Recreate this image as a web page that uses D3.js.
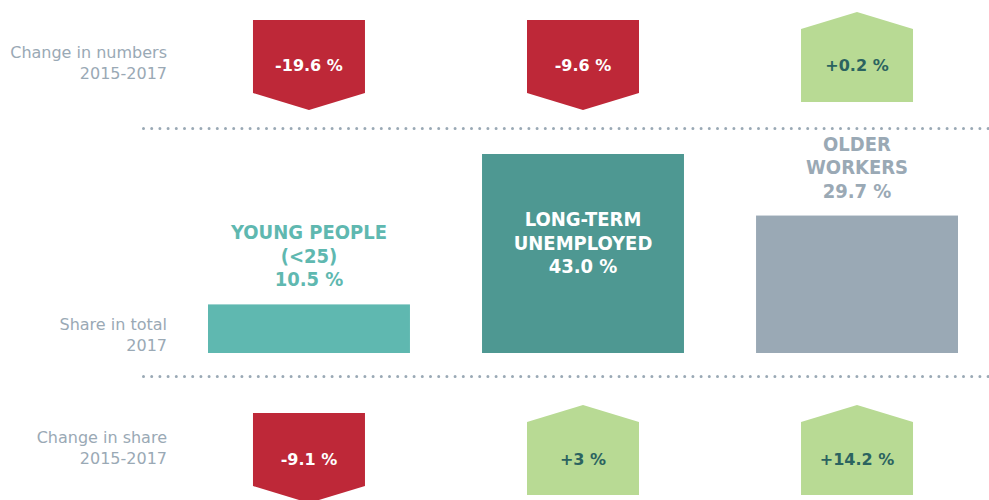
<!DOCTYPE html>
<html>
<head>
<meta charset="utf-8">
<script src="https://cdn.jsdelivr.net/npm/d3@7"></script>
<style>
  html, body { margin: 0; padding: 0; background: #ffffff; }
  svg text { font-family: "DejaVu Sans Condensed", "DejaVu Sans", sans-serif; }
</style>
</head>
<body>
<div id="chart"></div>
<script>
// Groups and their values
const groups = ["YOUNG PEOPLE (<25)", "LONG-TERM UNEMPLOYED", "OLDER WORKERS"];
const groupLines = [["YOUNG PEOPLE", "(<25)"], ["LONG-TERM", "UNEMPLOYED"], ["OLDER", "WORKERS"]];
const shareTotal2017 = [10.5, 43.0, 29.7];
const changeNumbers = [-19.6, -9.6, 0.2];
const changeShare = [-9.1, 3, 14.2];
const changeShareLabels = ["-9.1 %", "+3 %", "+14.2 %"];
const changeNumberLabels = ["-19.6 %", "-9.6 %", "+0.2 %"];
const rowLabels = [["Change in numbers", "2015-2017"], ["Share in total", "2017"], ["Change in share", "2015-2017"]];

const barColors = ["#5fb8b0", "#4e9892", "#9aa9b5"];
const labelColors = ["#5fb8b0", "#ffffff", "#9aa9b5"];
const RED = "#be2838", GREEN = "#b8da94", GREEN_TEXT = "#2b6360", GREY = "#9aa9b5";

const W = 989, H = 500;
const svg = d3.select("#chart").append("svg")
    .attr("width", W).attr("height", H);

// Column positions
const x = d3.scaleBand()
    .domain(groups)
    .range([208, 958])
    .paddingInner(0.263)
    .paddingOuter(0);

// Share bar heights
const baseY = 353;
const y = d3.scaleLinear()
    .domain([0, d3.max(shareTotal2017)])
    .range([baseY, 154]);

// Row labels on the left
const rowY = [58, 330, 443];
rowLabels.forEach((lines, r) => {
    const t = svg.append("text")
        .attr("x", 167).attr("y", rowY[r])
        .attr("text-anchor", "end")
        .attr("fill", GREY)
        .style("font-family", "'DejaVu Sans', sans-serif")
        .style("font-size", "16px");
    lines.forEach((l, i) => {
        t.append("tspan").attr("x", 167).attr("dy", i === 0 ? 0 : 20.5).text(l);
    });
});

// Dotted separators
[128.5, 376.5].forEach(yy => {
    svg.append("line")
        .attr("x1", 143.5).attr("x2", W)
        .attr("y1", yy).attr("y2", yy)
        .attr("stroke", GREY)
        .attr("stroke-width", 3)
        .attr("stroke-linecap", "round")
        .attr("stroke-dasharray", "0,8.2");
});

// Arrow shapes: rectangle body plus a pointed end
const arrowW = 112, bodyH = 73, tipH = 17;
function arrowPath(cx, top, up) {
    const l = cx - arrowW / 2, r = cx + arrowW / 2;
    if (up) {
        const s = top + tipH, b = s + bodyH;
        return `M${l},${s} L${cx},${top} L${r},${s} L${r},${b} L${l},${b} Z`;
    }
    const s = top + bodyH, t = s + tipH;
    return `M${l},${top} L${r},${top} L${r},${s} L${cx},${t} L${l},${s} Z`;
}

function drawArrowRow(values, labels, rowTop, textY) {
    const g = svg.append("g");
    groups.forEach((gName, i) => {
        const cx = x(gName) + x.bandwidth() / 2;
        const up = values[i] >= 0;
        g.append("path")
            .attr("d", arrowPath(cx, up ? rowTop - 8 : rowTop, up))
            .attr("fill", up ? GREEN : RED);
        g.append("text")
            .attr("x", cx).attr("y", textY)
            .attr("text-anchor", "middle")
            .attr("fill", up ? GREEN_TEXT : "#ffffff")
            .style("font-family", "'DejaVu Sans', sans-serif")
            .style("font-size", "16px")
            .style("font-weight", "bold")
            .text(labels[i]);
    });
}

drawArrowRow(changeNumbers, changeNumberLabels, 20, 70.5);
drawArrowRow(changeShare, changeShareLabels, 413, 465);

// Share bars
groups.forEach((gName, i) => {
    const cx = x(gName) + x.bandwidth() / 2;
    svg.append("rect")
        .attr("x", x(gName))
        .attr("y", y(shareTotal2017[i]))
        .attr("width", x.bandwidth())
        .attr("height", baseY - y(shareTotal2017[i]))
        .attr("fill", barColors[i]);

    // Label inside tallest bar, above the others
    const inside = shareTotal2017[i] === d3.max(shareTotal2017);
    const lastY = inside ? 273 : y(shareTotal2017[i]) - 18;
    const lines = groupLines[i].concat([d3.format(".1f")(shareTotal2017[i]) + " %"]);
    lines.forEach((l, k) => {
        svg.append("text")
            .attr("x", cx)
            .attr("y", lastY - (lines.length - 1 - k) * 23.5)
            .attr("text-anchor", "middle")
            .attr("fill", labelColors[i])
            .style("font-size", "20px")
            .style("font-weight", "bold")
            .text(l);
    });
});
</script>
</body>
</html>
